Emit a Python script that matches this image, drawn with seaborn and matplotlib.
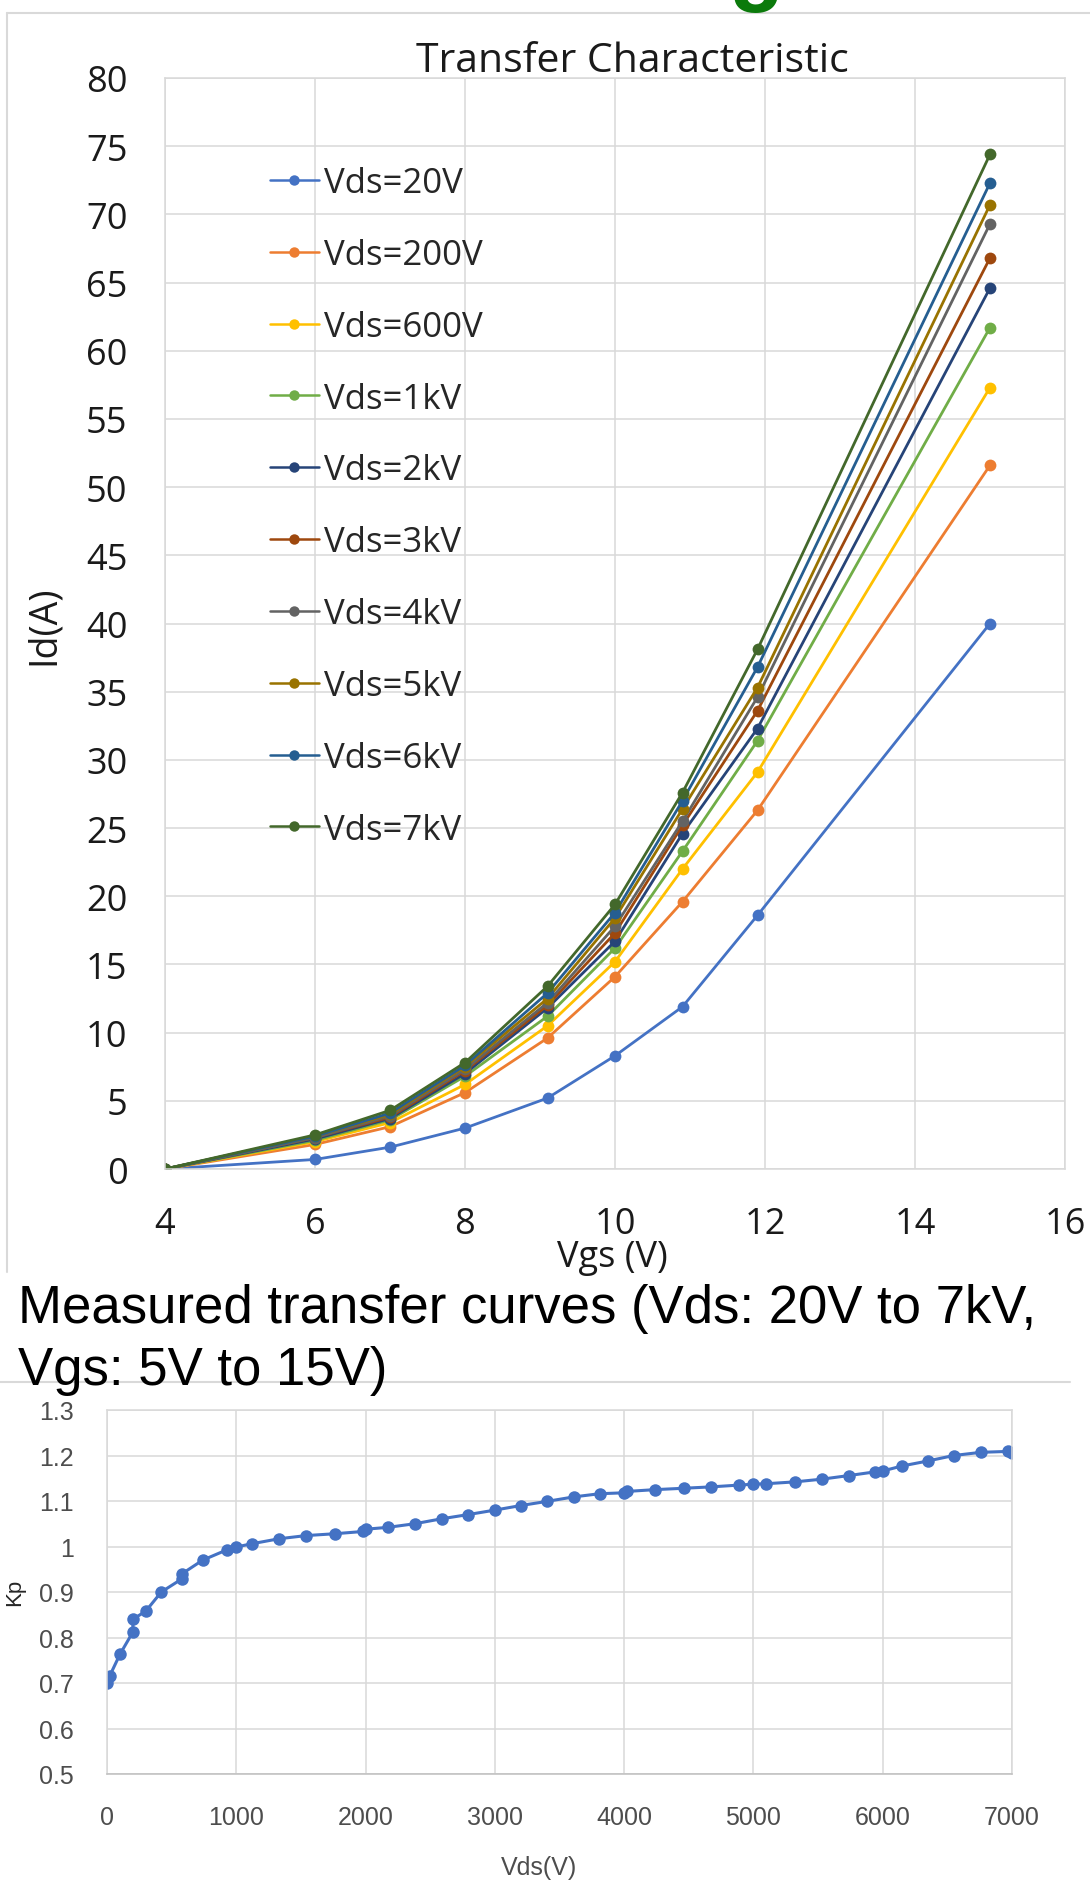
import matplotlib
matplotlib.use("Agg")
import matplotlib.pyplot as plt
from matplotlib.lines import Line2D
from matplotlib.font_manager import FontProperties
from matplotlib.ticker import FuncFormatter
import seaborn as sns
import pandas as pd

# ---------------- data: transfer characteristic ----------------
vgs = [4, 6, 7, 8, 9.1, 10, 10.9, 11.9, 15]
series_labels = ["Vds=20V", "Vds=200V", "Vds=600V", "Vds=1kV", "Vds=2kV",
                 "Vds=3kV", "Vds=4kV", "Vds=5kV", "Vds=6kV", "Vds=7kV"]
id_20v = [0, 0.7, 1.6, 3.0, 5.2, 8.3, 11.9, 18.6, 40.0]
id_200v = [0, 1.8, 3.1, 5.6, 9.6, 14.1, 19.6, 26.3, 51.6]
id_600v = [0, 2.0, 3.4, 6.2, 10.5, 15.2, 22.0, 29.1, 57.3]
id_1kv = [0, 2.1, 3.6, 6.8, 11.2, 16.2, 23.3, 31.4, 61.7]
id_2kv = [0, 2.2, 3.7, 7.0, 11.8, 16.7, 24.6, 32.3, 64.6]
id_3kv = [0, 2.3, 3.8, 7.2, 12.0, 17.3, 25.2, 33.6, 66.8]
id_4kv = [0, 2.3, 3.9, 7.3, 12.2, 17.8, 25.5, 34.6, 69.3]
id_5kv = [0, 2.4, 4.0, 7.5, 12.5, 18.4, 26.4, 35.3, 70.7]
id_6kv = [0, 2.4, 4.1, 7.6, 12.9, 18.8, 27.0, 36.8, 72.3]
id_7kv = [0, 2.5, 4.3, 7.8, 13.4, 19.4, 27.6, 38.1, 74.4]
series_values = [id_20v, id_200v, id_600v, id_1kv, id_2kv,
                 id_3kv, id_4kv, id_5kv, id_6kv, id_7kv]
series_colors = ["#4472C4", "#ED7D31", "#FFC000", "#70AD47", "#264478",
                 "#9E480E", "#636363", "#997300", "#255E91", "#43682B"]
top_xticks = [4, 6, 8, 10, 12, 14, 16]
top_yticks = list(range(0, 81, 5))

# ---------------- data: Kp vs Vds ----------------
vds = [0, 20, 100, 200, 200, 300, 420, 580, 580, 740, 930, 1000, 1120, 1330,
       1540, 1760, 1980, 2000, 2170, 2380, 2590, 2790, 3000, 3200, 3400, 3610,
       3810, 4000, 4020, 4240, 4460, 4670, 4890, 5000, 5100, 5320, 5530, 5740,
       5940, 6000, 6150, 6350, 6550, 6760, 6970, 7000]
kp = [0.700, 0.715, 0.763, 0.812, 0.840, 0.858, 0.900, 0.929, 0.940, 0.970,
      0.993, 0.999, 1.006, 1.017, 1.024, 1.028, 1.033, 1.038, 1.042, 1.050,
      1.061, 1.070, 1.080, 1.090, 1.099, 1.109, 1.116, 1.118, 1.121, 1.125,
      1.128, 1.131, 1.135, 1.137, 1.138, 1.142, 1.148, 1.156, 1.164, 1.166,
      1.177, 1.188, 1.200, 1.207, 1.209, 1.206]
bot_xticks = [0, 1000, 2000, 3000, 4000, 5000, 6000, 7000]
bot_yticks = [0.5, 0.6, 0.7, 0.8, 0.9, 1.0, 1.1, 1.2, 1.3]

caption_line1 = "Measured transfer curves (Vds: 20V to 7kV,"
caption_line2 = "Vgs: 5V to 15V)"

# ---------------- style ----------------
sns.set_theme(style="white")
plt.rcParams["font.family"] = ["Open Sans", "DejaVu Sans"]
GRID = "#D9D9D9"
W, H = 1090, 1883


def fx(px):
    return px / W


def fy(py):
    return 1 - py / H


fig = plt.figure(figsize=(W / 100, H / 100), dpi=100)
fig.patch.set_facecolor("white")

# ---------------- top chart ----------------
ax1 = fig.add_axes([fx(165), fy(1170), (1065 - 165) / W, (1170 - 79) / H])
rows = []
for lab, vals in zip(series_labels, series_values):
    for x, y in zip(vgs, vals):
        rows.append({"Vgs": x, "Id": y, "Series": lab})
df = pd.DataFrame(rows)
sns.lineplot(data=df, x="Vgs", y="Id", hue="Series", hue_order=series_labels,
             palette=series_colors, estimator=None, sort=False, marker="o",
             markersize=8.5, markeredgewidth=0, linewidth=2.0, legend=False,
             ax=ax1)
ax1.set_xlim(4, 16)
ax1.set_ylim(0, 80)
ax1.set_xticks(top_xticks)
ax1.set_yticks(top_yticks)
ax1.grid(True, color=GRID, linewidth=1.1)
for s in ax1.spines.values():
    s.set_visible(True)
    s.set_color(GRID)
    s.set_linewidth(1.1)
ax1.tick_params(axis="both", length=0, labelsize=26, colors="#1a1a1a")
ax1.tick_params(axis="y", pad=27)
ax1.tick_params(axis="x", pad=27)
ax1.set_xlabel("")
ax1.set_ylabel("")

handles = [Line2D([0], [0], color=c, lw=1.8, marker="o", markersize=7.5,
                  markeredgewidth=0) for c in series_colors]
ax1.legend(handles, series_labels, loc="upper left",
           bbox_to_anchor=(fx(270), fy(167)), bbox_transform=fig.transFigure,
           frameon=False, borderpad=0, borderaxespad=0, handlelength=1.4,
           handletextpad=0.15, labelspacing=1.09,
           prop=FontProperties(family="Open Sans", size=25))

fig.text(fx(632), fy(72), "Transfer Characteristic", ha="center",
         va="baseline", fontsize=29.5, color="#1a1a1a")
fig.text(fx(44), fy(625), "Id(A)", rotation=90, ha="center", va="center",
         fontsize=27, color="#1a1a1a")
fig.text(fx(612), fy(1258), "Vgs (V)", ha="center", va="center",
         fontsize=26, color="#1a1a1a")

# outer frame of the top chart picture
fig.add_artist(Line2D([fx(7), 1], [fy(14), fy(14)], color=GRID, lw=1.5,
                      transform=fig.transFigure))
fig.add_artist(Line2D([fx(7), fx(7)], [fy(14), fy(1273)], color=GRID, lw=1.5,
                      transform=fig.transFigure))

# partially visible green letter at the very top
fig.text(fx(756), fy(-6), "g", ha="center", va="baseline", fontsize=65,
         fontweight="bold", color="#0B7A0B", family="Liberation Sans")

# caption
fig.text(fx(18), fy(1323), caption_line1, ha="left", va="baseline",
         fontsize=38, color="black", family="Liberation Sans")
fig.text(fx(18), fy(1385), caption_line2, ha="left", va="baseline",
         fontsize=38, color="black", family="Liberation Sans")

# frame line of the lower picture
fig.add_artist(Line2D([0, fx(1070)], [fy(1383), fy(1383)], color=GRID, lw=1.5,
                      transform=fig.transFigure, zorder=0))

# ---------------- bottom chart ----------------
bfont = ["Liberation Sans", "DejaVu Sans"]
ax2 = fig.add_axes([fx(107), fy(1775), (1012 - 107) / W, (1775 - 1411) / H])
sns.lineplot(x=vds, y=kp, estimator=None, sort=False, marker="o",
             markersize=9, markeredgewidth=0, linewidth=2.2,
             color="#4472C4", ax=ax2)
ax2.set_xlim(0, 7000)
ax2.set_ylim(0.5, 1.3)
ax2.set_xticks(bot_xticks)
ax2.set_yticks(bot_yticks)
ax2.yaxis.set_major_formatter(FuncFormatter(lambda v, p: f"{v:g}"))
ax2.grid(True, color=GRID, linewidth=1.1)
for s in ax2.spines.values():
    s.set_visible(True)
    s.set_color(GRID)
    s.set_linewidth(1.1)
ax2.spines["bottom"].set_color("#BFBFBF")
ax2.tick_params(axis="both", length=0, labelsize=18, colors="#4d4d4d")
ax2.tick_params(axis="y", pad=24)
ax2.tick_params(axis="x", pad=22)
for lbl in ax2.get_xticklabels() + ax2.get_yticklabels():
    lbl.set_family(bfont)
ax2.set_xlabel("")
ax2.set_ylabel("")
fig.text(fx(539), fy(1868), "Vds(V)", ha="center", va="center", fontsize=18,
         color="#4d4d4d", family=bfont)
fig.text(fx(15), fy(1592), "Kp", rotation=90, ha="center", va="center",
         fontsize=16, color="#262626", family=bfont)

fig.savefig("out.png", dpi=100, facecolor="white")
